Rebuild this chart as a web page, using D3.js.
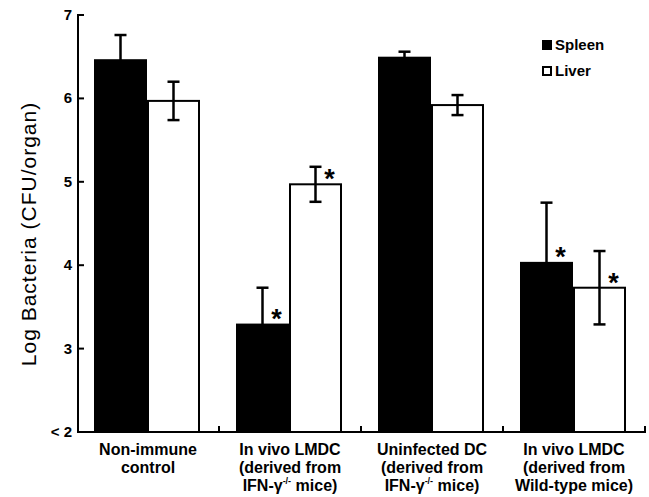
<!DOCTYPE html>
<html><head><meta charset="utf-8">
<script src="https://cdn.jsdelivr.net/npm/d3@7"></script>
<style>body{margin:0;background:#fff}svg{display:block}text{font-family:"Liberation Sans",Arial,sans-serif}</style>
</head><body><svg id="c" width="649" height="497"></svg>
<script>
const groups = ["Non-immune control","In vivo LMDC IFN","Uninfected DC","In vivo LMDC WT"];
const series = ["Spleen","Liver"];
const spleenValues = [6.47, 3.30, 6.50, 4.04];
const spleenErrors = [0.29, 0.43, 0.06, 0.71];
const liverValues = [5.97, 4.97, 5.92, 3.73];
const liverErrors = [0.23, 0.21, 0.12, 0.44];
const significant = [[false,false],[true,true],[false,false],[true,true]];
const yTicks = [2,3,4,5,6,7];
const yTickLabels = ["< 2","3","4","5","6","7"];
const xLabelLines = [
  [["Non-immune"],["control"]],
  [["In vivo LMDC"],["(derived from"],["IFN-γ","-/-"," mice)"]],
  [["Uninfected DC"],["(derived from"],["IFN-γ","-/-"," mice)"]],
  [["In vivo LMDC"],["(derived from"],["Wild-type mice)"]]
];

const svg = d3.select("#c");
const x0 = d3.scaleBand().domain(groups).range([77,645]).padding(0);
const x1 = d3.scaleBand().domain(series).range([17,123]).padding(0);
const y = d3.scaleLinear().domain([2,7]).range([432,15]);

const data = groups.map((g,i)=>[
  {g, s:"Spleen", v:spleenValues[i], e:spleenErrors[i], sig:significant[i][0]},
  {g, s:"Liver", v:liverValues[i], e:liverErrors[i], sig:significant[i][1]}
]).flat();

// bars
svg.selectAll("rect.bar").data(data).join("rect")
  .attr("class","bar")
  .attr("x",d=>x0(d.g)+x1(d.s) + (d.s==="Liver"?1:0))
  .attr("width",d=>x1.bandwidth() - (d.s==="Liver"?2:0))
  .attr("y",d=>y(d.v))
  .attr("height",d=>y(2)-y(d.v))
  .attr("fill",d=>d.s==="Spleen"?"#000":"#fff")
  .attr("stroke","#000")
  .attr("stroke-width",d=>d.s==="Liver"?2:0);

// error bars
const eb = svg.append("g").attr("stroke","#000").attr("stroke-width",2.5);
data.forEach(d=>{
  const cx = x0(d.g)+x1(d.s)+x1.bandwidth()/2;
  eb.append("line").attr("x1",cx).attr("x2",cx).attr("y1",y(d.v+d.e)).attr("y2",y(d.v-d.e));
  eb.append("line").attr("x1",cx-6).attr("x2",cx+6).attr("y1",y(d.v+d.e)).attr("y2",y(d.v+d.e));
  eb.append("line").attr("x1",cx-6).attr("x2",cx+6).attr("y1",y(d.v-d.e)).attr("y2",y(d.v-d.e));
  if(d.sig){
    svg.append("text").attr("x",cx+14).attr("y",y(d.v)+4)
      .attr("text-anchor","middle").attr("font-size",27).attr("font-weight","bold").text("*");
  }
});

// y axis
const ya = svg.append("g");
ya.append("line").attr("x1",78).attr("x2",78).attr("y1",y(7)).attr("y2",y(2)+1).attr("stroke","#000").attr("stroke-width",2);
yTicks.forEach((t,i)=>{
  if(t>2) ya.append("line").attr("x1",77).attr("x2",84).attr("y1",y(t)).attr("y2",y(t)).attr("stroke","#000").attr("stroke-width",2);
  ya.append("text").attr("x",72).attr("y",y(t)+5).attr("text-anchor","end")
    .attr("font-size",15).attr("font-weight","bold").text(yTickLabels[i]);
});

// x axis
const xa = svg.append("g");
xa.append("line").attr("x1",77).attr("x2",646).attr("y1",y(2)).attr("y2",y(2)).attr("stroke","#000").attr("stroke-width",2);
groups.forEach((g,i)=>{
  const bx = x0(g)+x0.bandwidth();
  xa.append("line").attr("x1",bx).attr("x2",bx).attr("y1",y(2)).attr("y2",y(2)-6).attr("stroke","#000").attr("stroke-width",2);
  const cx = x0(g)+x0.bandwidth()/2;
  xLabelLines[i].forEach((parts,j)=>{
    const t = xa.append("text").attr("x",cx).attr("y",455+j*18).attr("text-anchor","middle")
      .attr("font-size",16).attr("font-weight","bold");
    if(parts.length===1) t.text(parts[0]);
    else {
      t.append("tspan").text(parts[0]);
      t.append("tspan").attr("font-size",9).attr("dy",-7).text(parts[1]);
      t.append("tspan").attr("dy",7).text(parts[2]);
    }
  });
});

// y label
svg.append("text").attr("transform","translate(36,234) rotate(-90)").attr("text-anchor","middle")
  .attr("font-size",21).attr("letter-spacing",1).text("Log Bacteria (CFU/organ)");

// legend
const lg = svg.append("g");
series.forEach((s,i)=>{
  lg.append("rect").attr("x",543).attr("y",41+i*26).attr("width",8).attr("height",8)
    .attr("fill",s==="Spleen"?"#000":"#fff").attr("stroke","#000").attr("stroke-width",2);
  lg.append("text").attr("x",555).attr("y",50+i*26).attr("font-size",15).attr("font-weight","bold").text(s);
});
</script></body></html>
